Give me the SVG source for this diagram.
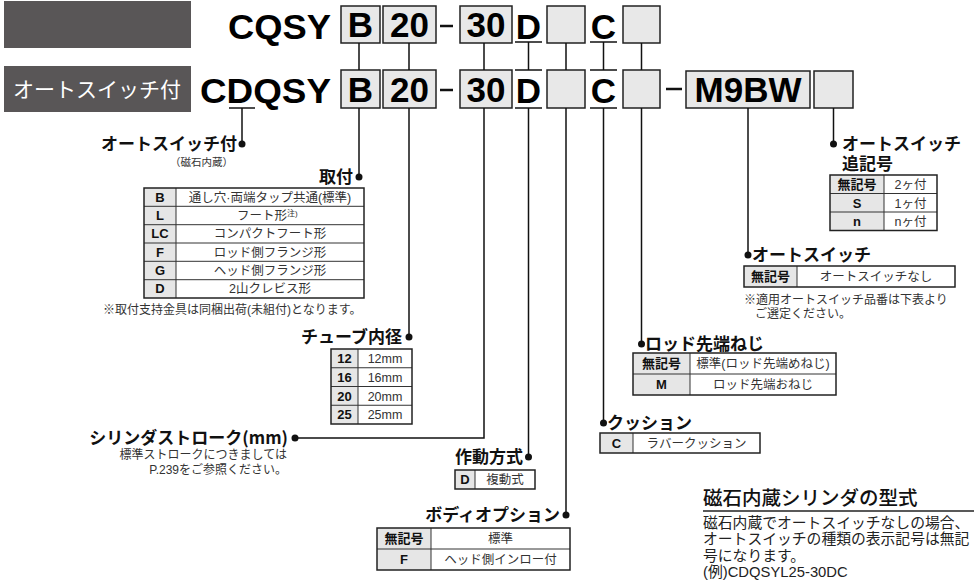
<svg xmlns="http://www.w3.org/2000/svg" width="974" height="587" viewBox="0 0 974 587">
<style>
.big{font-family:"Liberation Sans","Noto Sans CJK JP",sans-serif;font-weight:bold;font-size:35px;fill:#000}
.bigc{font-family:"Liberation Sans","Noto Sans CJK JP",sans-serif;font-weight:bold;font-size:35px;fill:#000;text-anchor:middle}
.box{fill:#e8e8e8;stroke:#222;stroke-width:1.5}
.hdr{font-family:"Noto Sans CJK JP",sans-serif;font-weight:bold;font-size:17px;fill:#111}
.cc{font-family:"Liberation Sans","Noto Sans CJK JP",sans-serif;font-weight:bold;font-size:13px;fill:#111;text-anchor:middle}
.cd{font-family:"Liberation Sans","Noto Sans CJK JP",sans-serif;font-size:12.5px;fill:#333;text-anchor:middle}
.note{font-family:"Liberation Sans","Noto Sans CJK JP",sans-serif;font-size:12px;fill:#333}
.codecol{fill:#e6e6e6}
.tbl{fill:none;stroke:#222;stroke-width:1.5}
.in{stroke:#333;stroke-width:1}
.con{stroke:#111;stroke-width:1.5;fill:none}
.dot{fill:#111}
.para{font-family:"Liberation Sans","Noto Sans CJK JP",sans-serif;font-size:14.8px;fill:#222}
</style>

<g id="header1">
<rect x="4" y="1" width="187" height="47" fill="#595657"/>
</g>
<g id="header2">
<rect x="4" y="66" width="187" height="46" fill="#595657"/>
<text x="97" y="97" font-family="Noto Sans CJK JP,sans-serif" font-size="21" fill="#fff" text-anchor="middle">オートスイッチ付</text>
</g>

<g id="code-row1">
<text class="big" x="228" y="38.5" textLength="103" lengthAdjust="spacingAndGlyphs">CQSY</text>
<rect class="box" x="341" y="6" width="39" height="37"/><text class="bigc" x="360.5" y="37">B</text>
<rect class="box" x="383" y="6" width="53" height="37"/><text class="bigc" x="409.5" y="37">20</text>
<line x1="440" y1="26" x2="453" y2="26" stroke="#111" stroke-width="2.5"/>
<rect class="box" x="460" y="6" width="52" height="37"/><text class="bigc" x="486" y="37">30</text>
<text class="bigc" x="528.5" y="38.5">D</text>
<line x1="515" y1="42" x2="542" y2="42" stroke="#111" stroke-width="1.5"/>
<rect class="box" x="547" y="6" width="38" height="37"/>
<text class="bigc" x="603.5" y="38.5">C</text>
<line x1="590" y1="42" x2="617" y2="42" stroke="#111" stroke-width="1.5"/>
<rect class="box" x="623" y="6" width="37" height="37"/>
</g>

<g id="code-row2">
<text class="big" x="200" y="103" textLength="131" lengthAdjust="spacingAndGlyphs">CDQSY</text>
<line x1="229" y1="108" x2="255" y2="108" stroke="#111" stroke-width="1.5"/>
<rect class="box" x="341" y="70" width="39" height="38"/><text class="bigc" x="360.5" y="101.5">B</text>
<rect class="box" x="383" y="70" width="53" height="38"/><text class="bigc" x="409.5" y="101.5">20</text>
<line x1="440" y1="90" x2="453" y2="90" stroke="#111" stroke-width="2.5"/>
<rect class="box" x="460" y="70" width="52" height="38"/><text class="bigc" x="486" y="101.5">30</text>
<line x1="515" y1="70" x2="542" y2="70" stroke="#111" stroke-width="1.5"/>
<text class="bigc" x="528.5" y="103">D</text>
<line x1="515" y1="108" x2="542" y2="108" stroke="#111" stroke-width="1.5"/>
<rect class="box" x="547" y="70" width="38" height="38"/>
<line x1="590" y1="70" x2="617" y2="70" stroke="#111" stroke-width="1.5"/>
<text class="bigc" x="603.5" y="103">C</text>
<line x1="590" y1="108" x2="617" y2="108" stroke="#111" stroke-width="1.5"/>
<rect class="box" x="623" y="70" width="37" height="38"/>
<line x1="666" y1="89" x2="682" y2="89" stroke="#111" stroke-width="2.5"/>
<rect class="box" x="686" y="71" width="124" height="37"/><text class="bigc" x="748" y="101.5">M9BW</text>
<rect class="box" x="814" y="71" width="39" height="37"/>
</g>

<g id="connectors">
<path class="con" d="M359 43V70M409 43V70M484 43V70M528.5 42V70M566 43V70M603.5 42V70M641.5 43V70"/>
<path class="con" d="M242 108V144"/><circle class="dot" cx="242" cy="144" r="3.5"/>
<path class="con" d="M359 108V177"/><circle class="dot" cx="359" cy="177" r="3.5"/>
<path class="con" d="M409 108V337"/><circle class="dot" cx="409" cy="337" r="3.5"/>
<path class="con" d="M484 108V438H295"/><circle class="dot" cx="295" cy="438" r="3.5"/>
<path class="con" d="M528.5 108V457"/><circle class="dot" cx="528.5" cy="457" r="3.5"/>
<path class="con" d="M566 108V515"/><circle class="dot" cx="566" cy="515" r="3.5"/>
<path class="con" d="M603.5 108V423"/><circle class="dot" cx="603.5" cy="423" r="3.5"/>
<path class="con" d="M641.5 108V344"/><circle class="dot" cx="641.5" cy="344" r="3.5"/>
<path class="con" d="M748 108V255"/><circle class="dot" cx="748" cy="255" r="3.5"/>
<path class="con" d="M833.5 108V144"/><circle class="dot" cx="833.5" cy="144" r="3.5"/>
</g>

<g id="autoswitch-label">
<text class="hdr" x="237" y="150" text-anchor="end">オートスイッチ付</text>
<text x="233" y="166" text-anchor="end" font-family="Noto Sans CJK JP,sans-serif" font-size="10.5" fill="#333">（磁石内蔵）</text>
</g>

<g id="mounting">
<text class="hdr" x="353" y="183" text-anchor="end">取付</text>
<rect class="codecol" x="144" y="188" width="32" height="110"/>
<path class="in" d="M176 188V298M144 206.3H364M144 224.7H364M144 243H364M144 261.3H364M144 279.7H364"/>
<rect class="tbl" x="144" y="188" width="220" height="110"/>
<text class="cc" x="160" y="201.8">B</text><text class="cd" x="270" y="201.8">通し穴·両端タップ共通(標準)</text>
<text class="cc" x="160" y="220.1">L</text><text class="cd" x="237" y="220.1" style="text-anchor:start">フート形<tspan font-size="8" dy="-4">注)</tspan></text>
<text class="cc" x="160" y="238.4">LC</text><text class="cd" x="270" y="238.4">コンパクトフート形</text>
<text class="cc" x="160" y="256.7">F</text><text class="cd" x="270" y="256.7">ロッド側フランジ形</text>
<text class="cc" x="160" y="275">G</text><text class="cd" x="270" y="275">ヘッド側フランジ形</text>
<text class="cc" x="160" y="293.3">D</text><text class="cd" x="270" y="293.3">2山クレビス形</text>
<text class="note" x="103" y="314" font-size="12.5">※取付支持金具は同梱出荷(未組付)となります。</text>
</g>

<g id="bore">
<text class="hdr" x="402" y="343" text-anchor="end">チューブ内径</text>
<rect class="codecol" x="331" y="349" width="27" height="75"/>
<path class="in" d="M358 349V424M331 367.75H412M331 386.5H412M331 405.25H412"/>
<rect class="tbl" x="331" y="349" width="81" height="75"/>
<text class="cc" x="344.5" y="363">12</text><text class="cd" x="385" y="363">12mm</text>
<text class="cc" x="344.5" y="381.8">16</text><text class="cd" x="385" y="381.8">16mm</text>
<text class="cc" x="344.5" y="400.5">20</text><text class="cd" x="385" y="400.5">20mm</text>
<text class="cc" x="344.5" y="419.3">25</text><text class="cd" x="385" y="419.3">25mm</text>
</g>

<g id="stroke">
<text class="hdr" x="288" y="444" text-anchor="end">シリンダストローク(mm)</text>
<text class="note" x="287" y="459" text-anchor="end">標準ストロークにつきましては</text>
<text class="note" x="287" y="474" text-anchor="end">P.239をご参照ください。</text>
</g>

<g id="action">
<text class="hdr" x="523" y="463" text-anchor="end">作動方式</text>
<rect class="codecol" x="455" y="470" width="20" height="19"/>
<path class="in" d="M475 470V489"/>
<rect class="tbl" x="455" y="470" width="80" height="19"/>
<text class="cc" x="465" y="484">D</text><text class="cd" x="505" y="484">複動式</text>
</g>

<g id="body-option">
<text class="hdr" x="560" y="521" text-anchor="end">ボディオプション</text>
<rect class="codecol" x="377" y="528" width="54" height="42"/>
<path class="in" d="M431 528V570M377 549H570"/>
<rect class="tbl" x="377" y="528" width="193" height="42"/>
<text class="cc" x="404" y="543">無記号</text><text class="cd" x="500.5" y="543">標準</text>
<text class="cc" x="404" y="564">F</text><text class="cd" x="500.5" y="564">ヘッド側インロー付</text>
</g>

<g id="cushion">
<text class="hdr" x="607" y="429">クッション</text>
<rect class="codecol" x="600" y="433" width="33" height="20"/>
<path class="in" d="M633 433V453"/>
<rect class="tbl" x="600" y="433" width="160" height="20"/>
<text class="cc" x="616.5" y="447.5">C</text><text class="cd" x="696.5" y="447.5">ラバークッション</text>
</g>

<g id="rod-end">
<text class="hdr" x="645" y="350">ロッド先端ねじ</text>
<rect class="codecol" x="633" y="353" width="57" height="42"/>
<path class="in" d="M690 353V395M633 374H836"/>
<rect class="tbl" x="633" y="353" width="203" height="42"/>
<text class="cc" x="661.5" y="368">無記号</text><text class="cd" x="763" y="368">標準(ロッド先端めねじ)</text>
<text class="cc" x="661.5" y="389">M</text><text class="cd" x="763" y="389">ロッド先端おねじ</text>
</g>

<g id="auto-switch">
<text class="hdr" x="752" y="261">オートスイッチ</text>
<rect class="codecol" x="744" y="266" width="53" height="21"/>
<path class="in" d="M797 266V287"/>
<rect class="tbl" x="744" y="266" width="211" height="21"/>
<text class="cc" x="770.5" y="281">無記号</text><text class="cd" x="876" y="281">オートスイッチなし</text>
<text class="note" x="744" y="304" font-size="12.4">※適用オートスイッチ品番は下表より</text>
<text class="note" x="755" y="318" font-size="12.4">ご選定ください。</text>
</g>

<g id="switch-qty">
<text class="hdr" x="842" y="149.5">オートスイッチ</text>
<text class="hdr" x="842" y="169.5">追記号</text>
<rect class="codecol" x="830" y="175" width="54" height="55.5"/>
<path class="in" d="M884 175V230.5M830 193.5H937M830 212H937"/>
<rect class="tbl" x="830" y="175" width="107" height="55.5"/>
<text class="cc" x="857" y="189">無記号</text><text class="cd" x="910.5" y="189">2ヶ付</text>
<text class="cc" x="857" y="207.5">S</text><text class="cd" x="910.5" y="207.5">1ヶ付</text>
<text class="cc" x="857" y="226">n</text><text class="cd" x="910.5" y="226">nヶ付</text>
</g>

<g id="magnet-note">
<text x="703" y="505" font-family="Noto Sans CJK JP,sans-serif" font-weight="500" font-size="19.5" fill="#111">磁石内蔵シリンダの型式</text>
<line x1="703" y1="511" x2="974" y2="511" stroke="#222" stroke-width="1.5"/>
<text class="para" x="703" y="528">磁石内蔵でオートスイッチなしの場合、</text>
<text class="para" x="703" y="544">オートスイッチの種類の表示記号は無記</text>
<text class="para" x="703" y="561">号になります。</text>
<text class="para" x="703" y="577">(例)CDQSYL25-30DC</text>
</g>
</svg>
